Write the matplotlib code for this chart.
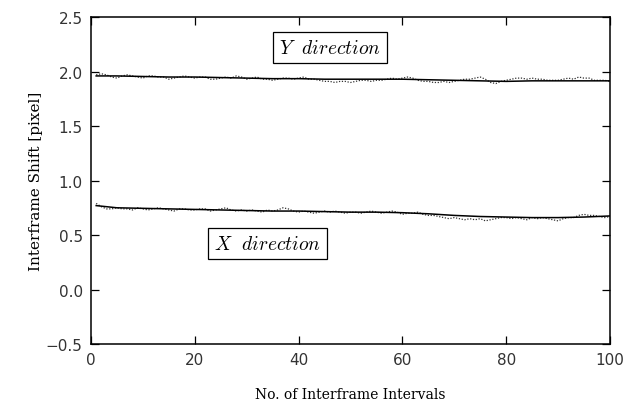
import matplotlib
matplotlib.use("Agg")
import matplotlib.pyplot as plt
import numpy as np

plt.rcParams['mathtext.fontset'] = 'cm'

# measured shifts, one per interframe interval (1..100)
intervals = list(range(1, 101))
y_shift = [1.97, 1.98, 1.97, 1.95, 1.94, 1.96, 1.97, 1.96, 1.95, 1.94,
           1.96, 1.96, 1.95, 1.95, 1.93, 1.94, 1.95, 1.96, 1.95, 1.94,
           1.95, 1.95, 1.93, 1.93, 1.94, 1.95, 1.94, 1.96, 1.95, 1.93,
           1.94, 1.95, 1.93, 1.93, 1.92, 1.93, 1.94, 1.94, 1.93, 1.94,
           1.95, 1.93, 1.93, 1.92, 1.91, 1.91, 1.90, 1.91, 1.91, 1.90,
           1.91, 1.92, 1.92, 1.91, 1.92, 1.92, 1.93, 1.94, 1.93, 1.94,
           1.95, 1.94, 1.92, 1.91, 1.91, 1.90, 1.90, 1.91, 1.90, 1.91,
           1.92, 1.93, 1.93, 1.94, 1.95, 1.93, 1.90, 1.89, 1.91, 1.92,
           1.93, 1.94, 1.94, 1.93, 1.94, 1.93, 1.93, 1.92, 1.92, 1.92,
           1.93, 1.94, 1.93, 1.95, 1.94, 1.94, 1.92, 1.92, 1.92, 1.91]
x_shift = [0.79, 0.76, 0.74, 0.74, 0.75, 0.74, 0.74, 0.73, 0.75, 0.74,
           0.73, 0.74, 0.75, 0.74, 0.73, 0.72, 0.74, 0.74, 0.73, 0.73,
           0.74, 0.74, 0.72, 0.73, 0.74, 0.75, 0.73, 0.72, 0.73, 0.72,
           0.73, 0.72, 0.71, 0.73, 0.72, 0.73, 0.75, 0.74, 0.72, 0.71,
           0.72, 0.71, 0.70, 0.71, 0.72, 0.71, 0.72, 0.71, 0.70, 0.71,
           0.71, 0.70, 0.71, 0.72, 0.71, 0.70, 0.71, 0.72, 0.71, 0.69,
           0.70, 0.70, 0.71, 0.69, 0.68, 0.68, 0.67, 0.66, 0.65, 0.66,
           0.65, 0.64, 0.65, 0.64, 0.65, 0.63, 0.64, 0.65, 0.66, 0.66,
           0.65, 0.66, 0.65, 0.64, 0.66, 0.65, 0.66, 0.65, 0.64, 0.63,
           0.65, 0.66, 0.66, 0.68, 0.69, 0.68, 0.68, 0.67, 0.66, 0.67]

# smoothed curves
fit_x = [1, 5, 10, 15, 20, 25, 30, 35, 40, 45, 50,
         55, 60, 65, 70, 75, 80, 85, 90, 95, 100]
y_fit = [1.96, 1.96, 1.955, 1.95, 1.95, 1.945, 1.94, 1.935, 1.935, 1.93, 1.93,
         1.93, 1.93, 1.925, 1.92, 1.915, 1.91, 1.915, 1.915, 1.915, 1.915]
x_fit = [0.77, 0.75, 0.745, 0.74, 0.735, 0.73, 0.725, 0.72, 0.72, 0.715, 0.71,
         0.71, 0.705, 0.695, 0.68, 0.67, 0.665, 0.66, 0.66, 0.665, 0.675]

fig = plt.figure(figsize=(6.38, 4.02), dpi=100)
ax = fig.add_axes([0.1426, 0.1418, 0.8134, 0.8132])

for data, fit in [(y_shift, y_fit), (x_shift, x_fit)]:
    ax.plot(intervals, data, color='0.2', lw=0.9, ls=(0, (1, 1.3)))
    ax.plot(fit_x, fit, color='black', lw=1.1)

box = dict(boxstyle='square,pad=0.3', fc='white', ec='black', lw=0.9)
ax.text(46, 2.22, r'$Y\ \ direction$', fontsize=14, ha='center', va='center', bbox=box)
ax.text(34, 0.42, r'$X\ \ direction$', fontsize=14, ha='center', va='center', bbox=box)

ax.set_xlim(0, 100)
ax.set_ylim(-0.5, 2.5)
ax.set_xticks([0, 20, 40, 60, 80, 100])
ax.set_yticks([-0.5, 0.0, 0.5, 1.0, 1.5, 2.0, 2.5])
ax.set_yticklabels(['\u22120.5', '0.0', '0.5', '1.0', '1.5', '2.0', '2.5'])
ax.tick_params(direction='in', top=True, right=True, length=6, width=0.9,
               labelsize=11, pad=6)
for lab in ax.get_xticklabels() + ax.get_yticklabels():
    lab.set_color('0.2')
for s in ax.spines.values():
    s.set_linewidth(1.1)

ax.set_ylabel('Interframe Shift [pixel]', family='DejaVu Serif', fontsize=11, labelpad=2)
ax.set_xlabel('No. of Interframe Intervals', family='DejaVu Serif', fontsize=10, labelpad=14)

fig.savefig('out.png', dpi=100)
